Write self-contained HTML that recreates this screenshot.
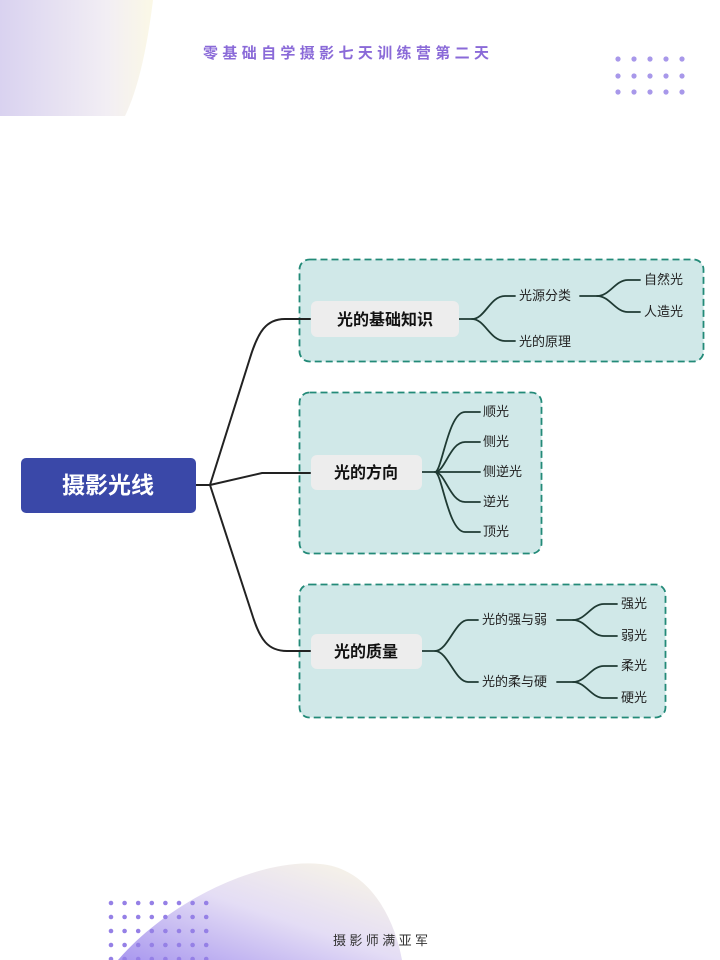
<!DOCTYPE html>
<html><head><meta charset="utf-8"><style>
html,body{margin:0;padding:0;background:#fff;}
svg{display:block;}
text{font-family:"Liberation Sans","Noto Sans CJK SC",sans-serif;}
</style></head><body>
<svg width="720" height="960" viewBox="0 0 720 960" xmlns="http://www.w3.org/2000/svg">
<defs>
<linearGradient id="g1" x1="0" y1="0" x2="1" y2="0">
<stop offset="0" stop-color="#d9d2f0"/><stop offset="0.7" stop-color="#f2eef4"/><stop offset="1" stop-color="#fbf8e6"/>
</linearGradient>
<linearGradient id="g2" x1="0" y1="1" x2="1" y2="0">
<stop offset="0" stop-color="#a998ef"/><stop offset="0.5" stop-color="#e4ddf5"/><stop offset="1" stop-color="#fbf8e4"/>
</linearGradient>
<g id="dr"><circle cx="111" cy="0" r="2.3"/><circle cx="124.6" cy="0" r="2.3"/><circle cx="138.2" cy="0" r="2.3"/><circle cx="151.8" cy="0" r="2.3"/><circle cx="165.4" cy="0" r="2.3"/><circle cx="179" cy="0" r="2.3"/><circle cx="192.6" cy="0" r="2.3"/><circle cx="206.2" cy="0" r="2.3"/></g>
</defs>
<rect width="720" height="960" fill="#fff"/>
<path d="M0 0 H153 C148 40 140 85 125 116 H0 Z" fill="url(#g1)"/>
<path d="M118 960 C170 900 260 858 320 864 C370 868 395 920 402 960 Z" fill="url(#g2)"/>
<g fill="#a898ea">
<circle cx="618" cy="59" r="2.6"/><circle cx="634" cy="59" r="2.6"/><circle cx="650" cy="59" r="2.6"/><circle cx="666" cy="59" r="2.6"/><circle cx="682" cy="59" r="2.6"/>
<circle cx="618" cy="76" r="2.6"/><circle cx="634" cy="76" r="2.6"/><circle cx="650" cy="76" r="2.6"/><circle cx="666" cy="76" r="2.6"/><circle cx="682" cy="76" r="2.6"/>
<circle cx="618" cy="92" r="2.6"/><circle cx="634" cy="92" r="2.6"/><circle cx="650" cy="92" r="2.6"/><circle cx="666" cy="92" r="2.6"/><circle cx="682" cy="92" r="2.6"/>
</g>
<g fill="#9580e6">
<use href="#dr" y="903"/><use href="#dr" y="917"/><use href="#dr" y="931"/><use href="#dr" y="945"/><use href="#dr" y="959"/>
</g>
<text x="203" y="58" font-size="15" textLength="286" lengthAdjust="spacing" fill="#8a6ad8" font-weight="bold">零基础自学摄影七天训练营第二天</text>
<text x="333" y="945" font-size="13" textLength="95" lengthAdjust="spacing" fill="#333">摄影师满亚军</text>

<g fill="#d0e8e8" stroke="#238a78" stroke-width="1.8" stroke-dasharray="7,4">
<rect x="299.5" y="259.5" width="404" height="102" rx="10"/>
<rect x="299.5" y="392.5" width="242" height="161" rx="10"/>
<rect x="299.5" y="584.5" width="366" height="133" rx="10"/>
</g>

<g fill="none" stroke="#222" stroke-width="2" stroke-linecap="round">
<path d="M196 485 H210"/>
<path d="M210 485 L250 358 C258 332 266 319 285 319 H310"/>
<path d="M210 485 L262 473 H310"/>
<path d="M210 485 L252 614 C260 640 268 651 287 651 H310"/>
</g>
<g fill="none" stroke="#1f3a33" stroke-width="1.8" stroke-linecap="round">
<path d="M459 319 H472 C485 319 490 296 505 296 H515"/>
<path d="M472 319 C485 319 490 341 505 341 H515"/>
<path d="M580 296 H597 C610 296 615 280 628 280 H640"/>
<path d="M597 296 C610 296 615 312 628 312 H640"/>
<path d="M422 472 H435 C442 472 448 412 465 412 H480"/>
<path d="M435 472 C445 472 450 442 465 442 H480"/>
<path d="M435 472 H480"/>
<path d="M435 472 C445 472 450 502 465 502 H480"/>
<path d="M435 472 C442 472 448 532 465 532 H480"/>
<path d="M422 651 H435 C448 651 455 620 468 620 H478"/>
<path d="M435 651 C448 651 455 682 468 682 H478"/>
<path d="M557 620 H573 C586 620 591 604 604 604 H617"/>
<path d="M573 620 C586 620 591 636 604 636 H617"/>
<path d="M557 682 H573 C586 682 591 666 604 666 H617"/>
<path d="M573 682 C586 682 591 698 604 698 H617"/>
</g>

<rect x="21" y="458" width="175" height="55" rx="5" fill="#3a48a8"/>
<text x="108" y="493" text-anchor="middle" font-size="23" font-weight="bold" fill="#fff">摄影光线</text>

<rect x="311" y="301" width="148" height="36" rx="6" fill="#ededed"/>
<text x="385" y="325" text-anchor="middle" font-size="16" font-weight="bold" fill="#111">光的基础知识</text>
<rect x="311" y="455" width="111" height="35" rx="6" fill="#ededed"/>
<text x="366" y="478" text-anchor="middle" font-size="16" font-weight="bold" fill="#111">光的方向</text>
<rect x="311" y="634" width="111" height="35" rx="6" fill="#ededed"/>
<text x="366" y="657" text-anchor="middle" font-size="16" font-weight="bold" fill="#111">光的质量</text>

<g font-size="13" fill="#222">
<text x="519" y="300">光源分类</text>
<text x="519" y="346">光的原理</text>
<text x="644" y="284">自然光</text>
<text x="644" y="316">人造光</text>
<text x="483" y="416">顺光</text>
<text x="483" y="446">侧光</text>
<text x="483" y="476">侧逆光</text>
<text x="483" y="506">逆光</text>
<text x="483" y="536">顶光</text>
<text x="482" y="624">光的强与弱</text>
<text x="482" y="686">光的柔与硬</text>
<text x="621" y="608">强光</text>
<text x="621" y="640">弱光</text>
<text x="621" y="670">柔光</text>
<text x="621" y="702">硬光</text>
</g>
</svg>
</body></html>
